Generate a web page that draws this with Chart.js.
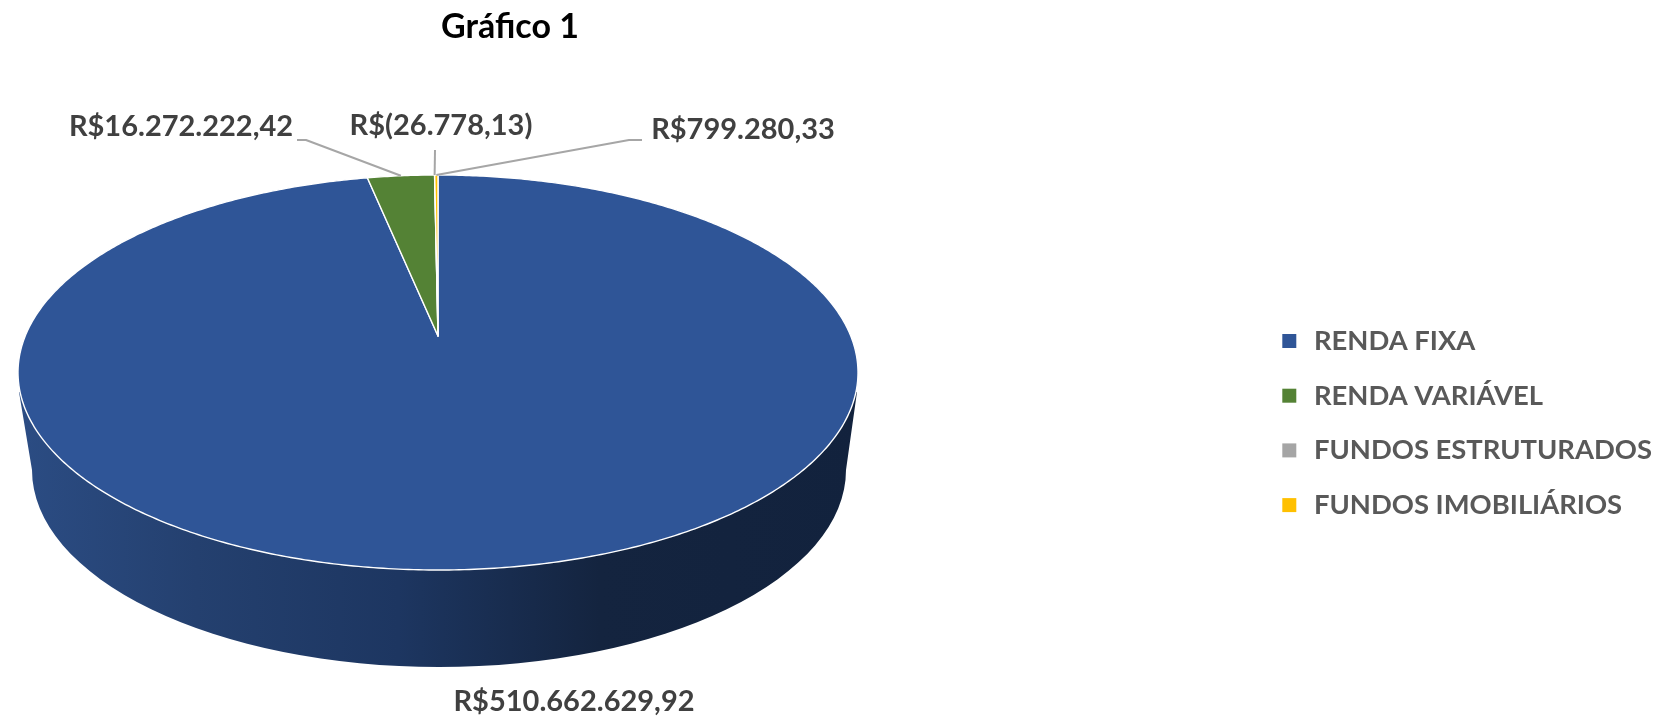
<!DOCTYPE html>
<html lang="pt-BR">
<head>
<meta charset="utf-8">
<title>Gráfico 1</title>
<script src="https://cdn.jsdelivr.net/npm/chart.js@4"></script>
<style>
  html, body { margin: 0; padding: 0; background: #ffffff; }
  canvas { display: block; }
</style>
</head>
<body>
<canvas id="grafico" width="1675" height="716"></canvas>
<script>
const categorias = ["RENDA FIXA", "RENDA VARIÁVEL", "FUNDOS ESTRUTURADOS", "FUNDOS IMOBILIÁRIOS"];
const valores = [510662629.92, 16272222.42, -26778.13, 799280.33];
const cores = ["#2f5597", "#548235", "#a5a5a5", "#ffc000"];

// Where the tilted disc sits on the page
const disco = { cx: 438, rx: 420, topo: 175, apice: 336, base: 570 };
const fundo = { cx: 439, cy: 470, rx: 407, ry: 197, esquerda: [19, 392], direita: [857, 392] };

// Label anchor and leader elbow for each slice (no leader on the big slice)
const rotulos = [
  { x: 574, y: 702, cotovelo: null },
  { x: 181, y: 127, cotovelo: [306, 140], fim: [297, 140] },
  { x: 441, y: 126, cotovelo: [435, 150], fim: [435, 150] },
  { x: 743, y: 130, cotovelo: [629, 140], fim: [642, 140] }
];

const fonte = "Lato";

function formatarReal(v) {
  const texto = Math.abs(v).toLocaleString("pt-BR", { minimumFractionDigits: 2, maximumFractionDigits: 2 });
  return v < 0 ? "R$(" + texto + ")" : "R$" + texto;
}

// The top of the pie is seen in perspective, so the centre is above the middle of the ellipse
const pc = (2 * disco.apice - disco.topo - disco.base) / (disco.base - disco.topo);
const pa = disco.base * (1 + pc) - disco.apice;
const pd = disco.rx * Math.sqrt(1 - pc * pc);

function pontoBorda(angulo) {
  const u = Math.cos(angulo);
  const v = Math.sin(angulo);
  const w = 1 + pc * v;
  return [disco.cx + pd * u / w, (pa * v + disco.apice) / w];
}

function desenharLateral(ctx) {
  const grad = ctx.createLinearGradient(20, 0, 860, 0);
  grad.addColorStop(0, "#2b4c83");
  grad.addColorStop(0.21, "#24406f");
  grad.addColorStop(0.45, "#1d3661");
  grad.addColorStop(0.69, "#14243f");
  grad.addColorStop(1, "#12223d");
  ctx.fillStyle = grad;
  ctx.beginPath();
  ctx.moveTo(fundo.esquerda[0], fundo.esquerda[1]);
  ctx.ellipse(fundo.cx, fundo.cy, fundo.rx, fundo.ry, 0, Math.PI, 0, true);
  ctx.lineTo(fundo.direita[0], fundo.direita[1]);
  ctx.closePath();
  ctx.fill();
}

function desenharFatia(ctx, arco, cor) {
  const passos = Math.max(2, Math.ceil((arco.endAngle - arco.startAngle) / 0.01));
  ctx.beginPath();
  ctx.moveTo(disco.cx, disco.apice);
  for (let i = 0; i <= passos; i++) {
    const p = pontoBorda(arco.startAngle + (arco.endAngle - arco.startAngle) * i / passos);
    ctx.lineTo(p[0], p[1]);
  }
  ctx.closePath();
  ctx.fillStyle = cor;
  ctx.fill();
  ctx.strokeStyle = "#ffffff";
  ctx.lineWidth = 1.4;
  ctx.lineJoin = "round";
  ctx.stroke();
}

function desenharRotulos(ctx, arcos) {
  ctx.font = "bold 29px " + fonte;
  ctx.textAlign = "center";
  ctx.textBaseline = "middle";
  for (let i = 0; i < arcos.length; i++) {
    const r = rotulos[i];
    if (r.cotovelo) {
      const meio = pontoBorda((arcos[i].startAngle + arcos[i].endAngle) / 2);
      ctx.strokeStyle = "#a6a6a6";
      ctx.lineWidth = 2;
      ctx.beginPath();
      ctx.moveTo(meio[0], meio[1]);
      ctx.lineTo(r.cotovelo[0], r.cotovelo[1]);
      ctx.lineTo(r.fim[0], r.fim[1]);
      ctx.stroke();
    }
    ctx.fillStyle = "#404040";
    ctx.fillText(formatarReal(valores[i]), r.x, r.y);
  }
}

const pizza3d = {
  id: "pizza3d",
  afterLayout(chart) {
    // title sits over the pie and the legend far to the right
    chart.titleBlock.left = 0;
    chart.titleBlock.right = 1020;
    chart.legend.left = 1251;
    chart.legend.right = 1675;
    chart.legend.top = 300;
    chart.legend.bottom = 600;
  },
  beforeDatasetDraw(chart) {
    const ctx = chart.ctx;
    const arcos = chart.getDatasetMeta(0).data;
    ctx.save();
    desenharLateral(ctx);
    for (let i = 0; i < arcos.length; i++) {
      desenharFatia(ctx, arcos[i], cores[i]);
    }
    desenharRotulos(ctx, arcos);
    ctx.restore();
    return false;
  }
};

new Chart(document.querySelector("#grafico"), {
  type: "pie",
  data: {
    labels: categorias,
    datasets: [{
      data: valores,
      backgroundColor: cores,
      borderColor: "#ffffff",
      borderWidth: 0
    }]
  },
  options: {
    responsive: false,
    animation: false,
    devicePixelRatio: 1,
    plugins: {
      title: {
        display: true,
        text: "Gráfico 1",
        color: "#000000",
        font: { family: fonte, size: 34, weight: "bold" },
        padding: { top: 7, bottom: 10 }
      },
      legend: {
        position: "right",
        align: "start",
        labels: {
          usePointStyle: true,
          pointStyle: "rect",
          boxWidth: 22,
          boxHeight: 14,
          padding: 27.3,
          color: "#595959",
          font: { family: fonte, size: 27.4, weight: "bold" }
        }
      },
      tooltip: { enabled: false }
    }
  },
  plugins: [pizza3d]
});
</script>
</body>
</html>
